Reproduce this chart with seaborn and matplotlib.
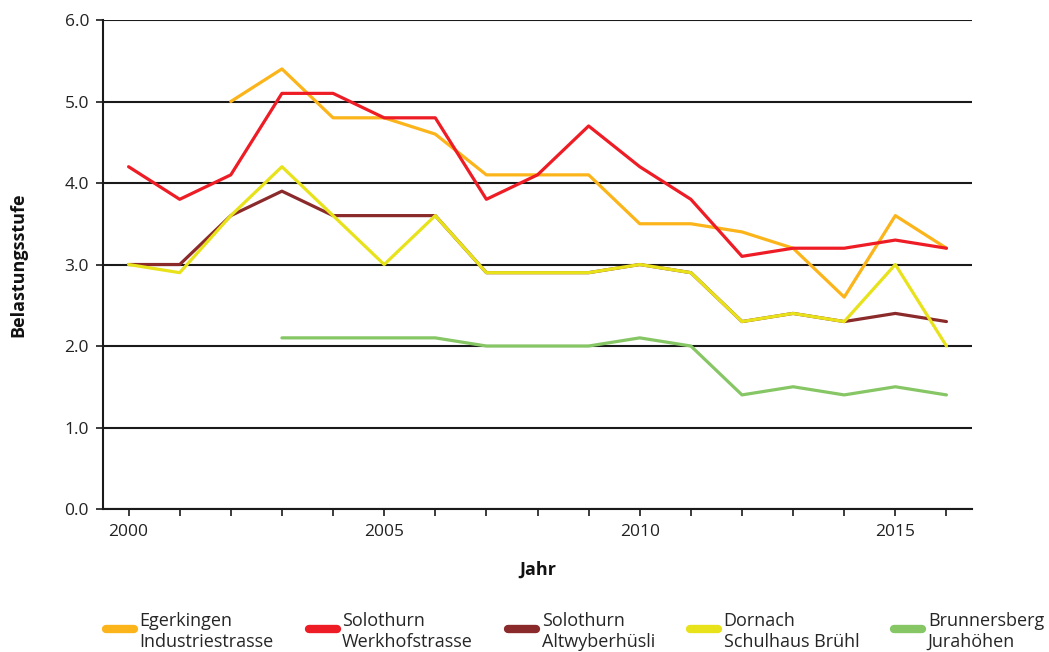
import pandas as pd
import numpy as np
import matplotlib.pyplot as plt
import seaborn as sns
from matplotlib.legend_handler import HandlerLine2D

# Data
years = list(range(2000, 2017))
nan = np.nan
egerkingen = [nan, nan, 5.0, 5.4, 4.8, 4.8, 4.6, 4.1, 4.1, 4.1, 3.5, 3.5, 3.4, 3.2, 2.6, 3.6, 3.2]
werkhof = [4.2, 3.8, 4.1, 5.1, 5.1, 4.8, 4.8, 3.8, 4.1, 4.7, 4.2, 3.8, 3.1, 3.2, 3.2, 3.3, 3.2]
altwyber = [3.0, 3.0, 3.6, 3.9, 3.6, 3.6, 3.6, 2.9, 2.9, 2.9, 3.0, 2.9, 2.3, 2.4, 2.3, 2.4, 2.3]
dornach = [3.0, 2.9, 3.6, 4.2, 3.6, 3.0, 3.6, 2.9, 2.9, 2.9, 3.0, 2.9, 2.3, 2.4, 2.3, 3.0, 2.0]
brunnersberg = [nan, nan, nan, 2.1, 2.1, 2.1, 2.1, 2.0, 2.0, 2.0, 2.1, 2.0, 1.4, 1.5, 1.4, 1.5, 1.4]

stations = [
    "Egerkingen\nIndustriestrasse",
    "Solothurn\nWerkhofstrasse",
    "Solothurn\nAltwyberhüsli",
    "Dornach\nSchulhaus Brühl",
    "Brunnersberg\nJurahöhen",
]
series = [egerkingen, werkhof, altwyber, dornach, brunnersberg]
colors = ["#FBB41A", "#EE1C25", "#8B2A2A", "#E8E21A", "#86C665"]

rows = []
for name, vals in zip(stations, series):
    for y, v in zip(years, vals):
        rows.append({"Jahr": y, "Wert": v, "Station": name})
df = pd.DataFrame(rows).dropna()


# legend handle sits next to the first line of the two-line label
class TopLine(HandlerLine2D):
    def create_artists(self, legend, orig_handle, xdescent, ydescent,
                       width, height, fontsize, trans):
        artists = super().create_artists(legend, orig_handle, xdescent, ydescent,
                                         width, height, fontsize, trans)
        for a in artists:
            a.set_ydata(np.asarray(a.get_ydata()) + 0.15 * fontsize)
        return artists


sns.set_style("white")
plt.rcParams["font.family"] = ["Open Sans", "DejaVu Sans"]

fig = plt.figure(figsize=(10.49, 6.52), dpi=100)
ax = fig.add_axes([0.0982, 0.2193, 0.8284, 0.75])

sns.lineplot(data=df, x="Jahr", y="Wert", hue="Station", hue_order=stations,
             palette=colors, linewidth=2.3, ax=ax, legend=True, zorder=3)

ax.set_xlim(1999.5, 2016.5)
ax.set_ylim(0, 6)
ax.set_yticks(np.arange(0, 6.01, 1.0))
ax.set_yticklabels([f"{v:.1f}" for v in np.arange(0, 6.01, 1.0)])
ax.set_xticks([2000, 2005, 2010, 2015])
ax.set_xticks(years, minor=True)
ax.yaxis.grid(True, color="#1a1a1a", linewidth=1.5)
ax.set_axisbelow(True)

for side in ["top", "right"]:
    ax.spines[side].set_visible(False)
for side in ["left", "bottom"]:
    ax.spines[side].set_color("#1a1a1a")
    ax.spines[side].set_linewidth(1.5)

ax.tick_params(axis="y", which="major", length=5, width=1.2, color="#1a1a1a",
               labelsize=12.5, labelcolor="#222222", pad=5, left=True)
ax.tick_params(axis="x", which="both", length=5, width=1.2, color="#1a1a1a",
               labelsize=12.5, labelcolor="#222222", pad=6, bottom=True)

ax.set_xlabel("Jahr", fontsize=13, fontweight="bold", color="#111111")
ax.set_ylabel("Belastungsstufe", fontsize=13, fontweight="bold", color="#111111")
ax.xaxis.set_label_coords(0.5, -0.105)
ax.yaxis.set_label_coords(-0.087, 0.5)

handles, labels = ax.get_legend_handles_labels()
ax.get_legend().remove()
for h in handles:
    h.set_linewidth(6)
    h.set_solid_capstyle("round")
fig.legend(handles, labels, loc="lower left", bbox_to_anchor=(0.101, 0.002),
           ncol=5, frameon=False, fontsize=13, handlelength=1.55,
           handletextpad=0.3, columnspacing=1.95, labelspacing=0.2,
           borderpad=0, borderaxespad=0,
           handler_map={type(handles[0]): TopLine()})

plt.savefig("out.png", dpi=100)
plt.close()
